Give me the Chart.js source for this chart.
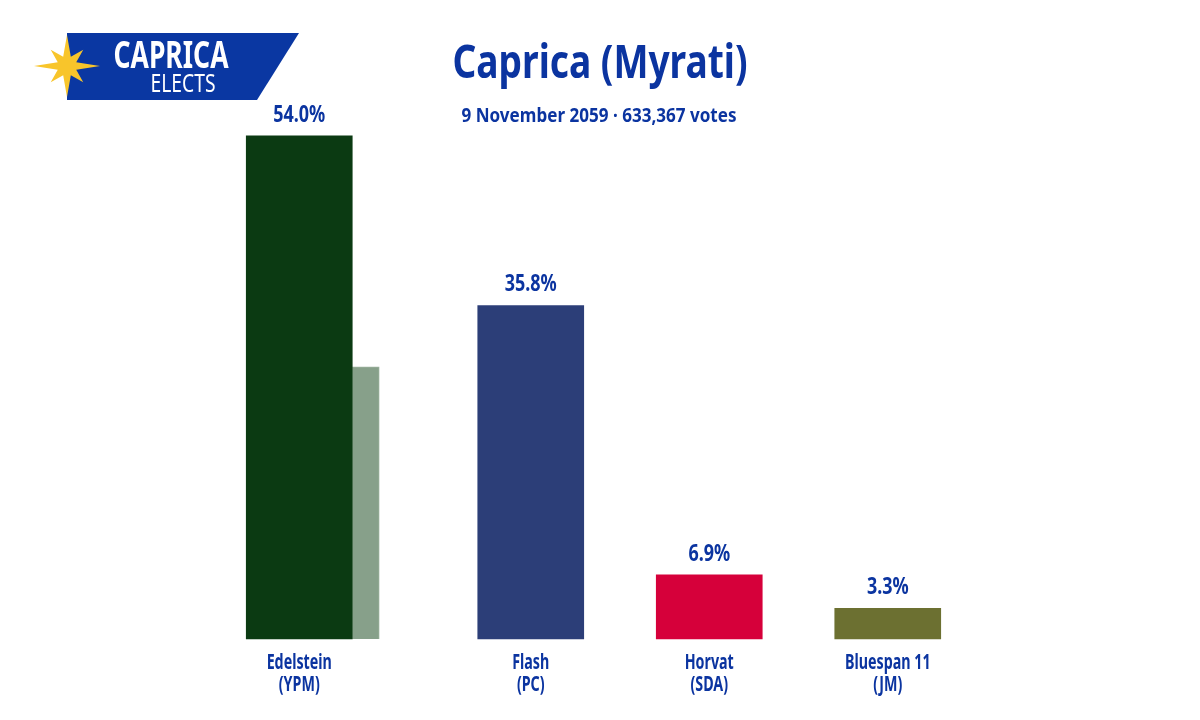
<!DOCTYPE html>
<html lang="en-US">
<head>
  <meta charset="utf-8">
  <title>Caprica (Myrati)</title>
  <script src="https://cdn.jsdelivr.net/npm/chart.js@4/dist/chart.umd.min.js"></script>
  <style>
    html, body { margin: 0; padding: 0; background: #fff; }
    .wrapper { width: 1200px; height: 720px; }
  </style>
</head>
<body>
  <div class="wrapper">
    <canvas id="chart-0" width="1200" height="720"></canvas>
  </div>

  <script>
    // data
    let candidates = ['Edelstein', 'Flash', 'Horvat', 'Bluespan 11'];
    let parties = ['(YPM)', '(PC)', '(SDA)', '(JM)'];
    let shares = [54.0, 35.8, 6.9, 3.3];
    let previousShares = [29.2, null, null, null];
    let barColors = ['#0b3a12', '#2c3e78', '#d6003a', '#6c7031'];

    let title = 'Caprica (Myrati)';
    let subtitle = '9 November 2059 \u00b7 633,367 votes';

    let blue = '#0b34a0';
    let fontFamily = '"Noto Sans", sans-serif';

    // the original face is a condensed one, so squeeze the text a little
    function squeezeText(ctx, text, x, y, factor) {
      let w = ctx.measureText(text).width;
      ctx.fillText(text, x, y, w * factor);
    }

    function drawStar(ctx, cx, cy) {
      // 8 points: long ones on the axes, short ones on the diagonals
      ctx.beginPath();
      for (let i = 0; i < 16; i++) {
        let a = -Math.PI / 2 + i * Math.PI / 8;
        let r;
        if (i % 2 === 1) r = 10;
        else if (i % 4 === 0) r = (i % 8 === 0) ? 31 : 33;
        else r = 23;
        let px = cx + r * Math.cos(a);
        let py = cy + r * Math.sin(a);
        if (i === 0) ctx.moveTo(px, py); else ctx.lineTo(px, py);
      }
      ctx.closePath();
      ctx.fillStyle = '#f8c52b';
      ctx.fill();
    }

    let decorations = {
      id: 'decorations',
      afterDraw: function(chart) {
        let ctx = chart.ctx;
        ctx.save();

        // logo
        ctx.beginPath();
        ctx.moveTo(67, 33);
        ctx.lineTo(299, 33);
        ctx.lineTo(257, 100);
        ctx.lineTo(67, 100);
        ctx.closePath();
        ctx.fillStyle = '#0a37a2';
        ctx.fill();
        drawStar(ctx, 67, 66);

        ctx.fillStyle = '#fff';
        ctx.textAlign = 'center';
        ctx.textBaseline = 'alphabetic';
        ctx.font = 'bold 38px ' + fontFamily;
        ctx.fillText('CAPRICA', 171, 68, 115);
        ctx.font = '25px ' + fontFamily;
        ctx.fillText('ELECTS', 183, 92, 65);

        // titles
        ctx.fillStyle = blue;
        ctx.font = 'bold 46px ' + fontFamily;
        ctx.fillText(title, 600, 78, 295);
        ctx.font = 'bold 20px ' + fontFamily;
        ctx.fillText(subtitle, 599, 122, 275);

        // value labels and names under the main bars
        let meta = chart.getDatasetMeta(0);
        meta.data.forEach(function(bar, i) {
          ctx.fillStyle = blue;
          ctx.textBaseline = 'alphabetic';
          ctx.font = 'bold 23px ' + fontFamily;
          squeezeText(ctx, shares[i].toFixed(1) + '%', bar.x, bar.y - 14, 0.78);

          ctx.font = 'bold 21px ' + fontFamily;
          ctx.textBaseline = 'middle';
          squeezeText(ctx, candidates[i], bar.x, 663, 0.68);
          squeezeText(ctx, parties[i], bar.x, 685, 0.68);
        });

        ctx.restore();
      }
    };

    let chart = new Chart('chart-0', {
      type: 'bar',
      data: {
        labels: candidates,
        datasets: [
          {
            label: 'Result',
            data: shares,
            backgroundColor: barColors,
            barThickness: 106,
            skipNull: true,
            clip: false
          },
          {
            label: 'Previous',
            data: previousShares,
            backgroundColor: '#87a08a',
            borderColor: '#9db39f',
            borderWidth: 1,
            barThickness: 27,
            skipNull: true,
            clip: false
          }
        ]
      },
      options: {
        responsive: false,
        animation: false,
        layout: {
          padding: { left: 263, right: 223, top: 80, bottom: 81 }
        },
        plugins: {
          legend: { display: false },
          tooltip: { enabled: false },
          title: { display: false }
        },
        scales: {
          x: { display: false, grid: { display: false } },
          y: { display: false, min: 0, max: 60 }
        }
      },
      plugins: [decorations]
    });
  </script>
</body>
</html>
